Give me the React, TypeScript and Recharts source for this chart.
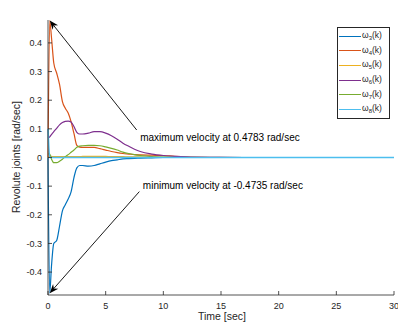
import { LineChart, Line, XAxis, YAxis, ReferenceLine, Legend } from 'recharts'

// sample times [sec]
const time = [
  0, 0.15, 0.3, 0.5, 0.75, 1, 1.25, 1.5, 1.75, 2, 2.25, 2.5, 2.75, 3, 3.5, 4, 4.5, 5, 5.5, 6, 6.5, 7, 7.5, 8,
  9, 10, 11, 12, 14, 17, 20, 25, 30,
]

// joint velocities [rad/sec]
const w3 = [
  0, -0.4735, -0.38, -0.3, -0.29, -0.24, -0.186, -0.165, -0.145, -0.12, -0.07, -0.036, -0.028, -0.028, -0.03,
  -0.028, -0.022, -0.016, -0.011, -0.008, -0.005, -0.004, -0.003, -0.002, -0.001, 0, 0, 0, 0, 0, 0, 0, 0,
]
const w4 = [
  0, 0.4783, 0.42, 0.33, 0.295, 0.255, 0.195, 0.172, 0.155, 0.125, 0.084, 0.042, 0.036, 0.035, 0.035, 0.035,
  0.031, 0.026, 0.021, 0.017, 0.014, 0.012, 0.01, 0.009, 0.008, 0.007, 0.004, 0.002, 0.0005, 0, 0, 0, 0,
]
const w5 = [
  0, 0.004, 0.004, 0.003, 0.003, 0.003, 0.003, 0.003, 0.003, 0.003, 0.003, 0.003, 0.003, 0.004, 0.004, 0.004,
  0.004, 0.004, 0.003, 0.003, 0.003, 0.002, 0.002, 0.002, 0.001, 0.001, 0.001, 0.0005, 0, 0, 0, 0, 0,
]
const w6 = [
  0.068, 0.072, 0.08, 0.09, 0.102, 0.114, 0.122, 0.126, 0.127, 0.124, 0.108, 0.088, 0.082, 0.082, 0.085, 0.09,
  0.09, 0.085, 0.076, 0.064, 0.05, 0.039, 0.029, 0.021, 0.012, 0.007, 0.004, 0.002, 0.0005, 0, 0, 0, 0,
]
const w7 = [
  0.013, 0.012, -0.005, -0.018, -0.018, -0.013, -0.006, 0.003, 0.01, 0.018, 0.026, 0.036, 0.04, 0.041, 0.042,
  0.042, 0.041, 0.037, 0.032, 0.026, 0.019, 0.014, 0.01, 0.007, 0.003, 0.001, 0, 0, 0, 0, 0, 0, 0,
]
const w8 = [
  0.1, 0, 0, 0, 0, 0, 0, 0, 0, 0, 0, 0, 0, 0, 0, 0, 0, 0, 0, 0, 0, 0, 0, 0, 0, 0, 0, 0, 0, 0, 0, 0, 0,
]

const xTicks = [0, 5, 10, 15, 20, 25, 30]
const yTicks = [-0.4, -0.3, -0.2, -0.1, 0, 0.1, 0.2, 0.3, 0.4]

const AX = '#262626'
const TXT = '#262626'
const FONT = '"Liberation Sans", Arial, Helvetica, sans-serif'

const rows = time.map((t, i) => ({ t, w3: w3[i], w4: w4[i], w5: w5[i], w6: w6[i], w7: w7[i], w8: w8[i] }))

const maxVel = Math.max(...w4)
const minVel = Math.min(...w3)
const tMax = time[w4.indexOf(maxVel)]
const tMin = time[w3.indexOf(minVel)]

// MATLAB-style ticks: marks point into the plot box
const BottomTick = (p: any) => (
  <g>
    <line x1={p.x} x2={p.x} y1={p.y} y2={p.y - 4} stroke={AX} strokeWidth={0.8} />
    <text x={p.x} y={p.y + 14} textAnchor="middle" fontSize={9} fill={TXT} fontFamily={FONT}>
      {p.payload.value}
    </text>
  </g>
)
const TopTick = (p: any) => <line x1={p.x} x2={p.x} y1={p.y} y2={p.y + 4} stroke={AX} strokeWidth={0.8} />
const LeftTick = (p: any) => (
  <g>
    <line x1={p.x} x2={p.x + 4} y1={p.y} y2={p.y} stroke={AX} strokeWidth={0.8} />
    <text x={p.x - 6} y={p.y + 3.2} textAnchor="end" fontSize={9} fill={TXT} fontFamily={FONT}>
      {p.payload.value}
    </text>
  </g>
)
const RightTick = (p: any) => <line x1={p.x} x2={p.x - 4} y1={p.y} y2={p.y} stroke={AX} strokeWidth={0.8} />

const TitleLabel = (p: any) => {
  const vb = p.viewBox ?? { x: 48, y: 20, width: 346, height: 0 }
  return (
    <text x={vb.x + 159} y={vb.y - 6} textAnchor="middle" fontSize={10.5} fontWeight="bold" fill="#000" fontFamily={FONT}>
      Control signals from robot arm
    </text>
  )
}
const XLabel = (p: any) => {
  const vb = p.viewBox ?? { x: 48, y: 295, width: 346, height: 32 }
  return (
    <text x={vb.x + vb.width / 2 + 1} y={vb.y + 25} textAnchor="middle" fontSize={10.5} fill={TXT} fontFamily={FONT}>
      Time [sec]
    </text>
  )
}
const YLabel = (p: any) => {
  const vb = p.viewBox ?? { x: 8, y: 20, width: 40, height: 275 }
  const cx = vb.x + 12
  const cy = vb.y + 137
  return (
    <text x={cx} y={cy} transform={`rotate(-90 ${cx} ${cy})`} textAnchor="middle" fontSize={10.5} fill={TXT} fontFamily={FONT}>
      Revolute joints [rad/sec]
    </text>
  )
}

// text arrow: line from the tail to the tip with a filled head, caption next to the tail
const arrowShape = (caption: string, dx: number, dy: number) => (p: any) => {
  const { x1, y1, x2, y2 } = p
  const a = Math.atan2(y2 - y1, x2 - x1)
  const c = Math.cos(a)
  const s = Math.sin(a)
  const len = 9
  const half = 3.5
  const bx = x2 - len * c
  const by = y2 - len * s
  const nx = x2 - len * 0.7 * c
  const ny = y2 - len * 0.7 * s
  const pts = [
    [x2, y2],
    [bx - s * half, by + c * half],
    [nx, ny],
    [bx + s * half, by - c * half],
  ]
  return (
    <g>
      <line x1={x1} y1={y1} x2={nx} y2={ny} stroke="#000" strokeWidth={0.9} />
      <polygon points={pts.map((q) => q.join(',')).join(' ')} fill="#000" />
      <text x={x1 + dx} y={y1 + dy} dominantBaseline="central" fontSize={10} fill="#000" fontFamily={FONT}>
        {caption}
      </text>
    </g>
  )
}

const LegendBox = ({ payload }: any) => (
  <div
    style={{
      border: `1px solid ${AX}`,
      background: '#fff',
      width: 53,
      boxSizing: 'border-box',
      padding: '1px 0 1px 1px',
      fontFamily: FONT,
      color: TXT,
    }}
  >
    {(payload ?? []).map((e: any) => (
      <div key={e.value} style={{ display: 'flex', alignItems: 'center', height: 14.6, fontSize: 8.5, lineHeight: 1 }}>
        <span style={{ display: 'inline-block', width: 22, borderTop: `1.5px solid ${e.color}`, marginRight: 1 }} />
        <span>
          ω<sub style={{ fontSize: 6, verticalAlign: -2 }}>{e.value}</sub>(k)
        </span>
      </div>
    ))}
  </div>
)

const series = [
  { key: 'w3', name: '3', color: '#0072BD', width: 1.2 },
  { key: 'w4', name: '4', color: '#D95319', width: 1.2 },
  { key: 'w5', name: '5', color: '#EDB120', width: 1.2 },
  { key: 'w6', name: '6', color: '#7E2F8E', width: 1.2 },
  { key: 'w7', name: '7', color: '#77AC30', width: 1.2 },
  { key: 'w8', name: '8', color: '#4DBEEE', width: 1.6 },
]

export default function App() {
  return (
    <div style={{ position: 'absolute', left: 0, top: 0, width: 398, height: 327, background: '#fff' }}>
      <LineChart width={398} height={327} data={rows} margin={{ top: 20, right: 4, bottom: 0, left: 8 }}>
        <XAxis
          dataKey="t"
          type="number"
          domain={[0, 30]}
          ticks={xTicks}
          interval={0}
          height={32}
          tickSize={0}
          tickMargin={0}
          tickLine={false}
          axisLine={{ stroke: AX, strokeWidth: 0.8 }}
          tick={BottomTick}
          label={XLabel}
        />
        <XAxis
          xAxisId="top"
          orientation="top"
          dataKey="t"
          type="number"
          domain={[0, 30]}
          ticks={xTicks}
          interval={0}
          height={0}
          tickSize={0}
          tickMargin={0}
          tickLine={false}
          axisLine={{ stroke: AX, strokeWidth: 0.8 }}
          tick={TopTick}
          label={TitleLabel}
        />
        <YAxis
          type="number"
          domain={[-0.48, 0.48]}
          ticks={yTicks}
          interval={0}
          width={40}
          tickSize={0}
          tickMargin={0}
          tickLine={false}
          axisLine={{ stroke: AX, strokeWidth: 0.8 }}
          tick={LeftTick}
          label={YLabel}
        />
        <YAxis
          yAxisId="right"
          orientation="right"
          type="number"
          domain={[-0.48, 0.48]}
          ticks={yTicks}
          interval={0}
          width={0}
          tickSize={0}
          tickMargin={0}
          tickLine={false}
          axisLine={{ stroke: '#666', strokeWidth: 1 }}
          tick={RightTick}
        />
        {series.map((s) => (
          <Line
            key={s.key}
            dataKey={s.key}
            name={s.name}
            type="monotone"
            stroke={s.color}
            strokeWidth={s.width}
            dot={false}
            activeDot={false}
            isAnimationActive={false}
          />
        ))}
        <ReferenceLine
          segment={[
            { x: 7.69, y: 0.096 },
            { x: tMax, y: maxVel },
          ]}
          ifOverflow="visible"
          shape={arrowShape(`maximum velocity at ${maxVel} rad/sec`, 3.5, 7)}
        />
        <ReferenceLine
          segment={[
            { x: 7.92, y: -0.119 },
            { x: tMin, y: minVel },
          ]}
          ifOverflow="visible"
          shape={arrowShape(`minimum velocity at ${minVel} rad/sec`, 3.5, -5.7)}
        />
        <Legend
          layout="horizontal"
          verticalAlign="middle"
          align="center"
          wrapperStyle={{ left: 337, top: 27, width: 53 }}
          content={LegendBox}
        />
      </LineChart>
    </div>
  )
}
